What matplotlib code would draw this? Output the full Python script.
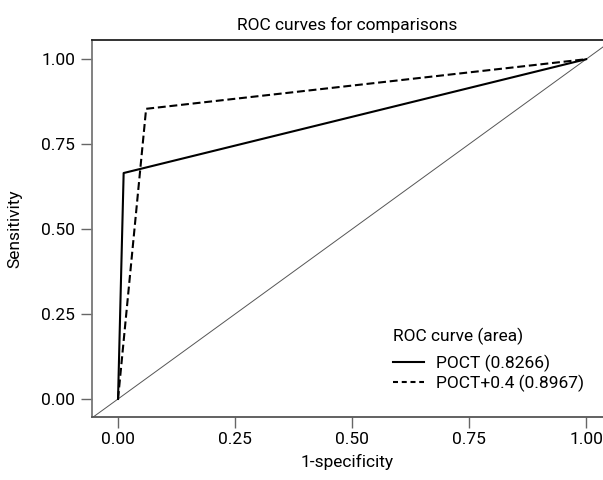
import matplotlib
matplotlib.use("Agg")
import matplotlib.pyplot as plt
from matplotlib.lines import Line2D

plt.rcParams['font.family'] = ['Roboto', 'DejaVu Sans']

# Data
poct_fpr = [0.0, 0.012, 1.0]
poct_tpr = [0.0, 0.665, 1.0]
poct4_fpr = [0.0, 0.060, 1.0]
poct4_tpr = [0.0, 0.854, 1.0]
labels = ["POCT (0.8266)", "POCT+0.4 (0.8967)"]
ticks = [0.0, 0.25, 0.5, 0.75, 1.0]
tick_labels = ["0.00", "0.25", "0.50", "0.75", "1.00"]

fig = plt.figure(figsize=(6.03, 4.8), dpi=100)
ax = fig.add_axes([92/603, 63/480, 511/603, 377/480])

ax.set_xlim(-0.0556, 1.036)
ax.set_ylim(-0.053, 1.0565)

ax.plot([-0.2, 1.2], [-0.2, 1.2], color='#555555', lw=0.7, zorder=1)
ax.plot(poct_fpr, poct_tpr, color='black', lw=1.5, zorder=3)
ax.plot(poct4_fpr, poct4_tpr, color='black', lw=1.5, ls=(0, (3.8, 1.8)), zorder=3)

h1 = Line2D([], [], color='black', lw=1.5)
h2 = Line2D([], [], color='black', lw=1.5, ls=(0, (2.4, 1.8)))

ax.set_xticks(ticks)
ax.set_xticklabels(tick_labels)
ax.set_yticks(ticks)
ax.set_yticklabels(tick_labels)
ax.tick_params(direction='out', length=8, width=1, color='#666666', labelsize=12.5)
ax.tick_params(axis='x', pad=3)
ax.tick_params(axis='y', pad=4)

ax.spines['right'].set_visible(False)
ax.spines['top'].set_color('#222222')
ax.spines['top'].set_linewidth(1.3)
ax.spines['left'].set_color('#777777')
ax.spines['left'].set_linewidth(1.3)
ax.spines['bottom'].set_color('#555555')
ax.spines['bottom'].set_linewidth(1.3)

ax.set_title("ROC curves for comparisons", fontsize=12.5, pad=7)
ax.set_xlabel("1-specificity", fontsize=12.5, labelpad=5)
ax.set_ylabel("Sensitivity", fontsize=12.5, labelpad=14)

leg = ax.legend(handles=[h1, h2], labels=labels, title="ROC curve (area)", loc='upper left',
                bbox_to_anchor=(0.589, 0.236), frameon=False, fontsize=12.5,
                title_fontsize=12.5, handlelength=1.8, handletextpad=0.7,
                labelspacing=0.15, borderpad=0, borderaxespad=0)
leg._legend_box.align = "left"
leg._legend_box.sep = 7

fig.savefig("out.png", dpi=100)
